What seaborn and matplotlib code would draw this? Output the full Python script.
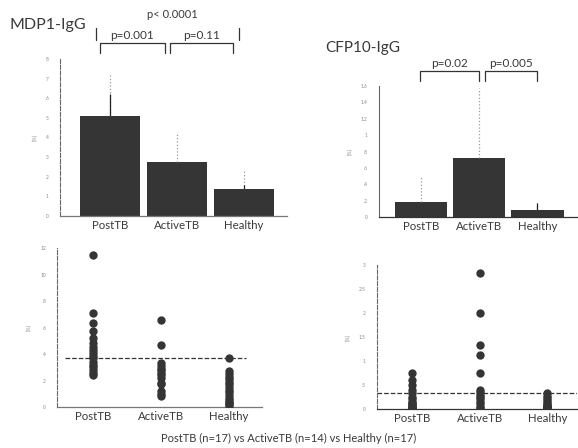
import numpy as np
import pandas as pd
import matplotlib
matplotlib.use("Agg")
import matplotlib.pyplot as plt
import seaborn as sns

groups = ["PostTB", "ActiveTB", "Healthy"]

# MDP1-IgG bar panel
mdp1_mean = [5.1, 2.75, 1.4]
mdp1_err_solid = [6.2, 2.75, 1.6]
mdp1_err_top = [7.3, 4.3, 2.4]

# CFP10-IgG bar panel
cfp10_mean = [0.18, 0.72, 0.08]
cfp10_err_solid = [0.18, 0.72, 0.17]
cfp10_err_top = [0.5, 1.58, 0.17]

# MDP1-IgG individual values
mdp1_post = [11.5, 7.1, 6.35, 5.75, 5.2, 4.8, 4.5, 4.3, 4.05, 3.85, 3.7, 3.4, 3.2, 3.0, 2.8, 2.6, 2.4]
mdp1_active = [6.55, 4.7, 3.3, 3.1, 2.9, 2.8, 2.6, 2.4, 2.2, 1.8, 1.7, 1.2, 1.0, 0.8]
mdp1_healthy = [3.7, 2.7, 2.5, 2.3, 2.1, 1.9, 1.7, 1.5, 1.3, 1.1, 0.9, 0.7, 0.5, 0.4, 0.3, 0.2, 0.1]
mdp1_cutoff = 3.7

# CFP10-IgG individual values
cfp10_post = [0.76, 0.6, 0.5, 0.4, 0.33, 0.25, 0.2, 0.15, 0.12, 0.1, 0.08, 0.05, 0.04, 0.03, 0.02, 0.01, 0.0]
cfp10_active = [2.83, 2.0, 1.33, 1.13, 0.76, 0.4, 0.35, 0.3, 0.25, 0.2, 0.15, 0.1, 0.05, 0.02]
cfp10_healthy = [0.33, 0.28, 0.22, 0.18, 0.14, 0.1, 0.08, 0.06, 0.05, 0.04, 0.03, 0.02, 0.02, 0.01, 0.01, 0.0, 0.0]
cfp10_cutoff = 0.33

sns.set_style("white")
plt.rcParams['font.family'] = ['Lato', 'DejaVu Sans']

dark = "#353535"
txt = "#3a3a3a"
tick_gray = "#8a8a8a"

fig = plt.figure(figsize=(5.78, 4.48), dpi=100)
ax1 = fig.add_axes([0.1038, 0.5179, 0.3927, 0.3504])
ax2 = fig.add_axes([0.6557, 0.5156, 0.3426, 0.2924])
ax3 = fig.add_axes([0.0986, 0.0915, 0.3547, 0.3549])
ax4 = fig.add_axes([0.6522, 0.0871, 0.3460, 0.3214])


def style_axes(ax, ylim, ticks, ticklabels, left_ls="--", bottom_color="#777777"):
    ax.set_ylim(*ylim)
    ax.set_yticks(ticks)
    ax.set_yticklabels(ticklabels, fontsize=3.5, color=tick_gray)
    ax.tick_params(axis="y", length=2, width=0.6, color="#666666", pad=6)
    ax.tick_params(axis="x", length=0, labelsize=8.2, labelcolor=txt, pad=3)
    for s in ["top", "right"]:
        ax.spines[s].set_visible(False)
    ax.spines["left"].set_linestyle(left_ls)
    ax.spines["left"].set_linewidth(0.8)
    ax.spines["left"].set_color("#666666")
    ax.spines["bottom"].set_linewidth(0.9)
    ax.spines["bottom"].set_color(bottom_color)
    ax.set_xlabel("")
    ax.set_ylabel("(%)", fontsize=4, color=tick_gray, labelpad=6)


def bar_panel(ax, means, err_solid, err_top):
    df = pd.DataFrame({"group": groups, "value": means})
    sns.barplot(data=df, x="group", y="value", order=groups, color=dark,
                width=0.9, errorbar=None, edgecolor="none", ax=ax)
    for p in ax.patches:
        p.set_facecolor(dark)
        p.set_alpha(1)
    x = np.arange(len(groups))
    ax.vlines(x, means, err_top, colors="#9a9a9a", linestyles=":", linewidth=0.9)
    ax.vlines(x, means, err_solid, colors="#222222", linewidth=0.9)


def bracket(ax, x0, x1, ytop, ybot, label, ytext, fs=8.5):
    ax.plot([x0, x0, x1, x1], [ybot, ytop, ytop, ybot], color="#333333",
            linewidth=0.9, clip_on=False)
    ax.text((x0 + x1) / 2, ytext, label, ha="center", va="center",
            fontsize=fs, color=txt, clip_on=False)


# Top left: MDP1-IgG bars
bar_panel(ax1, mdp1_mean, mdp1_err_solid, mdp1_err_top)
ax1.set_xlim(-0.75, 2.65)
style_axes(ax1, (0, 8), range(0, 9), [str(v) for v in range(0, 9)])
bracket(ax1, -0.15, 0.82, 8.82, 8.31, "p=0.001", 9.2)
bracket(ax1, 0.9, 1.84, 8.82, 8.31, "p=0.11", 9.2)
ax1.plot([-0.21, -0.21], [8.98, 9.59], color="#333333", linewidth=0.9, clip_on=False)
ax1.plot([1.93, 1.93], [8.98, 9.59], color="#333333", linewidth=0.9, clip_on=False)
ax1.text(0.94, 10.28, "p< 0.0001", ha="center", va="center", fontsize=8, color=txt)
ax1.text(-1.5, 9.75, "MDP1-IgG", ha="left", va="center", fontsize=11.5, color=txt)

# Top right: CFP10-IgG bars
bar_panel(ax2, cfp10_mean, cfp10_err_solid, cfp10_err_top)
ax2.set_xlim(-0.72, 2.68)
style_axes(ax2, (0, 1.6), np.arange(0, 1.61, 0.2),
           ["0", ".2", ".4", ".6", ".8", "1", "1.2", "1.4", "1.6"],
           left_ls="-", bottom_color="#333333")
bracket(ax2, -0.02, 1.0, 1.78, 1.66, "p=0.02", 1.87)
bracket(ax2, 1.1, 1.99, 1.78, 1.66, "p=0.005", 1.87)
ax2.text(-1.0, 2.07, "CFP10-IgG", ha="center", va="center", fontsize=11, color=txt)


def dot_panel(ax, post, active, healthy):
    df = pd.DataFrame({
        "group": ["PostTB"] * len(post) + ["ActiveTB"] * len(active) + ["Healthy"] * len(healthy),
        "value": post + active + healthy,
    })
    sns.stripplot(data=df, x="group", y="value", order=groups, jitter=False,
                  color=dark, size=6, linewidth=0, ax=ax)


# Bottom left: MDP1-IgG individual values
dot_panel(ax3, mdp1_post, mdp1_active, mdp1_healthy)
ax3.set_xlim(-0.53, 2.49)
style_axes(ax3, (0, 12), range(0, 13, 2), [str(v) for v in range(0, 13, 2)])
ax3.hlines(mdp1_cutoff, -0.41, 2.25, colors="#333333", linestyles="--", linewidth=0.9)

# Bottom right: CFP10-IgG individual values
dot_panel(ax4, cfp10_post, cfp10_active, cfp10_healthy)
ax4.set_xlim(-0.52, 2.44)
style_axes(ax4, (0, 3), np.arange(0, 3.01, 0.5), ["0", ".5", "1", "1.5", "2", "2.5", "3"],
           bottom_color="#333333")
ax4.axhline(cfp10_cutoff, color="#333333", linestyle="--", linewidth=0.9)

fig.text(0.5, 0.022, "PostTB (n=17) vs ActiveTB (n=14) vs Healthy (n=17)",
         ha="center", va="center", fontsize=8, color=txt)

fig.savefig("out.png", dpi=100)
